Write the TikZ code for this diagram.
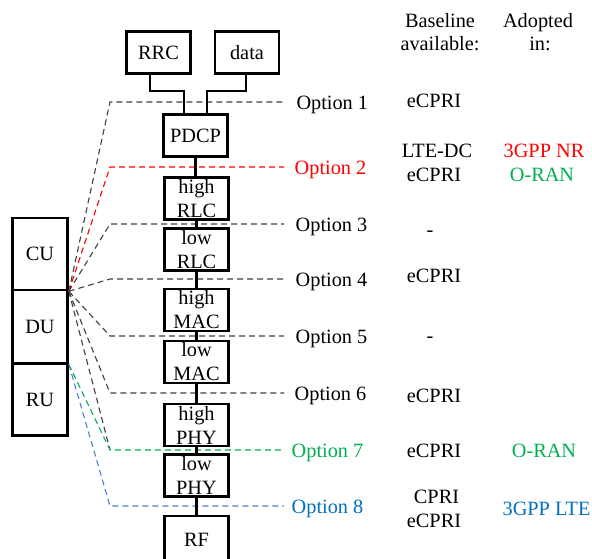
\documentclass[tikz,border=0pt]{standalone}
\usepackage{fontspec}
\setmainfont{Liberation Serif}
\usetikzlibrary{calc}
\definecolor{optred}{HTML}{FF0000}
\definecolor{optgreen}{HTML}{00B050}
\definecolor{optblue}{HTML}{0070C0}
\definecolor{lineblue}{HTML}{4F7FD0}
\definecolor{linegray}{HTML}{404040}
\begin{document}
\begin{tikzpicture}[x=1pt,y=-1pt,
  every node/.style={font=\fontsize{20.3}{24}\selectfont, inner sep=0pt},
  blk/.style={draw, line width=2.6pt, fill=white, minimum width=64pt, minimum height=42pt, align=center},
  unit/.style={draw, line width=2.6pt, fill=white, minimum width=55pt, align=center},
  link/.style={line width=2.6pt},
  optline/.style={dash pattern=on 6pt off 4pt, line width=1.1pt, draw=linegray},
  lbl/.style={anchor=base west},
  val/.style={anchor=base, align=center}]
\useasboundingbox (0,0) rectangle (592,558);
\clip (0,0) rectangle (592,558);

% bend points and line ends
\foreach \i/\y in {1/102,2/167,3/224,4/279,5/336,6/393,7/450,8/506}{
  \coordinate (b\i) at (110,\y);
  \coordinate (e\i) at (284,\y);
}

% CU / DU / RU
\node[unit, minimum height=72pt] (cu) at (40,254) {CU};
\node[unit, minimum height=73pt] (du) at (40,326.5) {DU};
\node[unit, minimum height=72pt] (ru) at (40,399.5) {RU};

% dashed option lines
\draw[optline] (cu.south east) -- (b1) -- (e1);
\draw[optline, draw=optred] (cu.south east) -- (b2) -- (e2);
\draw[optline] (cu.south east) -- (b3) -- (e3);
\draw[optline] (cu.south east) -- (b4) -- (e4);
\draw[optline] (cu.south east) -- (b5) -- (e5);
\draw[optline] (cu.south east) -- (b6) -- (e6);
\draw[optline] (cu.south east) -- (b7);
\draw[optline, draw=optgreen] (du.south east) -- (b7) -- (e7);
\draw[optline, draw=lineblue] (du.south east) -- (b8) -- (e8);

% protocol stack
\node[blk] (rrc) at (158.5,52.5) {RRC};
\node[blk] (data) at (247,52.5) {data};
\node[blk] (pdcp) at (195.5,135.5) {PDCP};
\node[blk] (hrlc) at (196.5,198.5) {high\\RLC};
\node[blk] (lrlc) at (196.5,249.5) {low\\RLC};
\node[blk] (hmac) at (196.5,310) {high\\MAC};
\node[blk] (lmac) at (196.5,362) {low\\MAC};
\node[blk] (hphy) at (196.5,425) {high\\PHY};
\node[blk] (lphy) at (196.5,475.5) {low\\PHY};
\node[blk, minimum height=48pt] (rf) at (196.5,540) {RF};

% stack connectors
\draw[link] ([xshift=-8.5pt]rrc.south) -- ++(0,16) -| ([xshift=-11.5pt]pdcp.north);
\draw[link] ([xshift=-1pt]data.south) -- ++(0,16) -| ([xshift=11.5pt]pdcp.north);
\draw[link] (pdcp.south) -- (pdcp.south |- hrlc.north);
\draw[link] (hrlc.south) -- (lrlc.north);
\draw[link] (lrlc.south) -- (hmac.north);
\draw[link] (hmac.south) -- (lmac.north);
\draw[link] (lmac.south) -- (hphy.north);
\draw[link] (hphy.south) -- (lphy.north);
\draw[link] (lphy.south) -- (rf.north);

% option labels
\node[lbl] (o1) at (296.3,109) {Option 1};
\node[lbl, text=optred] (o2) at (294.5,174) {Option 2};
\node[lbl] (o3) at (295.5,231) {Option 3};
\node[lbl] (o4) at (295.5,286) {Option 4};
\node[lbl] (o5) at (295.5,343) {Option 5};
\node[lbl] (o6) at (294.5,400) {Option 6};
\node[lbl, text=optgreen] (o7) at (291.5,457) {Option 7};
\node[lbl, text=optblue] (o8) at (291.5,513) {Option 8};

% column headers
\node[val] (hb1) at (440,27) {Baseline};
\node[val] (hb2) at (440,50) {available:};
\node[val] (ha1) at (538,27) {Adopted};
\node[val] (ha2) at (540,50) {in:};

% baseline column
\node[val] (v1) at (434,107) {eCPRI};
\node[val] (v2a) at (437,157) {LTE-DC};
\node[val] (v2b) at (434,181) {eCPRI};
\node[val] (v3) at (430,236) {-};
\node[val] (v4) at (434,282) {eCPRI};
\node[val] (v5) at (430,342) {-};
\node[val] (v6) at (434,402) {eCPRI};
\node[val] (v7) at (434,457) {eCPRI};
\node[val] (v8a) at (436.5,503) {CPRI};
\node[val] (v8b) at (434,527) {eCPRI};

% adopted column
\node[val, text=optred] (a2a) at (544,157) {3GPP NR};
\node[val, text=optgreen] (a2b) at (542,181) {O-RAN};
\node[val, text=optgreen] (a7) at (544,457) {O-RAN};
\node[val, text=optblue] (a8) at (546.5,515) {3GPP LTE};
\end{tikzpicture}
\end{document}
